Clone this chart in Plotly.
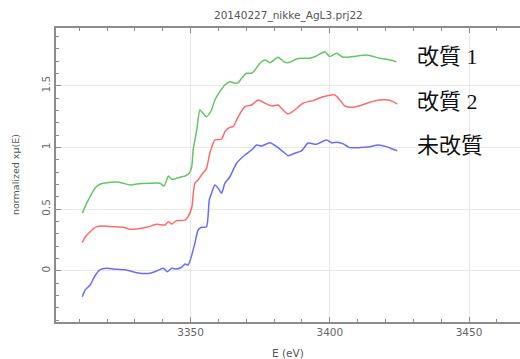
import plotly.graph_objects as go

# Normalized Ag L3-edge XANES spectra (energy in eV, normalized x-mu(E))
energy_kaishitsu1 = [3311.1, 3312.1, 3313.9, 3315.6, 3317.4, 3319.8, 3323.4, 3325.8, 3328.2, 3330.6,
                     3335.4, 3339.0, 3340.5, 3342.0, 3343.2, 3345.0, 3346.8, 3348.0, 3349.5, 3350.4,
                     3350.9, 3352.2, 3353.3, 3353.9, 3355.7, 3357.5, 3358.7, 3360.5, 3362.3, 3364.1,
                     3365.9, 3367.1, 3368.3, 3370.1, 3371.9, 3373.1, 3374.9, 3376.7, 3378.5, 3381.4,
                     3383.8, 3385.6, 3388.0, 3390.4, 3392.8, 3395.2, 3398.2, 3400.0, 3402.4, 3404.8,
                     3408.4, 3413.2, 3417.9, 3421.5, 3423.9]
mu_kaishitsu1 = [0.466, 0.519, 0.600, 0.668, 0.701, 0.714, 0.719, 0.709, 0.695, 0.703,
                 0.709, 0.709, 0.687, 0.768, 0.741, 0.749, 0.762, 0.768, 0.790, 0.843,
                 0.979, 1.141, 1.303, 1.290, 1.249, 1.303, 1.384, 1.452, 1.506, 1.533,
                 1.520, 1.525, 1.560, 1.601, 1.601, 1.628, 1.682, 1.709, 1.687, 1.731,
                 1.690, 1.690, 1.717, 1.723, 1.723, 1.741, 1.776, 1.736, 1.763, 1.731,
                 1.736, 1.749, 1.723, 1.709, 1.695]

energy_kaishitsu2 = [3311.1, 3312.1, 3313.9, 3316.3, 3318.6, 3322.2, 3325.8, 3328.2, 3330.6, 3334.2,
                     3337.8, 3340.8, 3342.0, 3343.2, 3345.0, 3348.0, 3349.1, 3350.4, 3351.5, 3352.7,
                     3353.9, 3355.7, 3356.9, 3358.7, 3361.1, 3362.3, 3364.1, 3365.3, 3367.1, 3369.5,
                     3371.9, 3374.3, 3376.7, 3379.1, 3381.4, 3383.2, 3385.0, 3387.4, 3389.2, 3390.4,
                     3392.2, 3394.0, 3397.0, 3398.8, 3401.8, 3403.6, 3405.4, 3407.2, 3410.8, 3414.4,
                     3417.9, 3420.9, 3422.7, 3424.2]
mu_kaishitsu2 = [0.227, 0.271, 0.316, 0.357, 0.363, 0.357, 0.352, 0.336, 0.338, 0.352,
                 0.376, 0.371, 0.397, 0.379, 0.406, 0.410, 0.438, 0.510, 0.709, 0.736,
                 0.776, 0.830, 0.952, 1.060, 1.066, 1.127, 1.163, 1.168, 1.249, 1.330,
                 1.344, 1.384, 1.358, 1.336, 1.344, 1.303, 1.271, 1.303, 1.338, 1.358,
                 1.371, 1.379, 1.406, 1.417, 1.425, 1.384, 1.336, 1.325, 1.338, 1.366,
                 1.384, 1.384, 1.371, 1.350]

energy_mikaishitsu = [3311.1, 3312.1, 3313.9, 3315.6, 3317.4, 3319.8, 3323.4, 3327.0, 3330.6, 3335.4,
                      3337.8, 3340.2, 3341.6, 3343.2, 3345.0, 3346.8, 3348.0, 3349.1, 3350.4, 3351.5,
                      3352.7, 3353.9, 3355.7, 3356.7, 3357.5, 3358.7, 3359.9, 3361.1, 3362.3, 3364.1,
                      3366.5, 3369.5, 3371.9, 3373.7, 3375.5, 3378.5, 3380.9, 3383.2, 3385.0, 3387.4,
                      3389.8, 3392.2, 3395.2, 3398.8, 3400.6, 3402.4, 3404.8, 3407.2, 3410.8, 3414.4,
                      3417.3, 3420.3, 3422.7, 3424.2]
mu_mikaishitsu = [-0.211, -0.157, -0.116, -0.043, 0.006, 0.019, 0.011, 0.006, -0.016, -0.021,
                  -0.002, 0.019, -0.008, 0.019, 0.014, 0.028, 0.054, 0.046, 0.125, 0.222,
                  0.330, 0.352, 0.357, 0.573, 0.628, 0.695, 0.668, 0.628, 0.709, 0.762,
                  0.871, 0.938, 0.979, 1.019, 1.011, 1.038, 1.006, 0.965, 0.933, 0.952,
                  0.971, 1.035, 1.025, 1.060, 1.038, 1.041, 1.028, 0.998, 0.998, 1.006,
                  1.019, 1.006, 0.985, 0.973]

series_names = ["改質 1", "改質 2", "未改質"]
series_colors = ["#66c566", "#ff6b6b", "#6b6bff"]

x_range = [3301.65, 3468.3]
y_range = [-0.416, 1.968]

fig = go.Figure()
for xs, ys, name, color in zip(
        [energy_kaishitsu1, energy_kaishitsu2, energy_mikaishitsu],
        [mu_kaishitsu1, mu_kaishitsu2, mu_mikaishitsu],
        series_names, series_colors):
    fig.add_trace(go.Scatter(
        x=xs, y=ys, mode="lines", name=name,
        line=dict(color=color, width=1.5, shape="spline", smoothing=0.6),
        showlegend=False, hoverinfo="skip",
    ))

# Series labels placed beside the line ends
label_y = [1.736, 1.371, 1.019]
for name, yv in zip(series_names, label_y):
    fig.add_annotation(
        x=3430.5, y=yv, xref="x", yref="y", text=name, showarrow=False,
        xanchor="left", yanchor="middle",
        font=dict(family="Liberation Serif, Noto Sans CJK JP", size=22, color="#111111"),
    )

tick_font = dict(family="DejaVu Sans", size=10.5, color="#666666")
axis_common = dict(
    showline=True, linecolor="#8c8c8c", linewidth=1.5,
    ticks="inside", ticklen=5, tickcolor="#8c8c8c", tickwidth=1,
    showgrid=True, gridcolor="#e8e8e8", gridwidth=1,
    zeroline=False, tickfont=tick_font,
)

fig.update_xaxes(
    range=x_range, dtick=50, tick0=3350, mirror="ticks",
    minor=dict(dtick=10, tick0=3350, ticks="inside", ticklen=3, tickcolor="#8c8c8c", showgrid=False),
    **axis_common,
)
fig.update_yaxes(
    range=y_range, dtick=0.5, tick0=0, tickangle=-90,
    tickvals=[0, 0.5, 1, 1.5], ticktext=["0", "0.5", "1", "1.5"],
    minor=dict(dtick=0.1, tick0=0, ticks="inside", ticklen=3, tickcolor="#8c8c8c", showgrid=False),
    **axis_common,
)

fig.add_annotation(
    x=0.5, y=1, xref="paper", yref="paper", yshift=13, xanchor="center", yanchor="middle",
    text="20140227_nikke_AgL3.prj22", showarrow=False,
    font=dict(family="DejaVu Sans", size=10.5, color="#555555"),
)
fig.add_annotation(
    x=0.5, y=0, xref="paper", yref="paper", yshift=-31, xanchor="center", yanchor="middle",
    text="E (eV)", showarrow=False,
    font=dict(family="DejaVu Sans", size=10.5, color="#555555"),
)
fig.add_annotation(
    x=0, y=0.5, xref="paper", yref="paper", xshift=-41, xanchor="center", yanchor="middle",
    text="normalized xμ(E)", textangle=-90, showarrow=False,
    font=dict(family="DejaVu Sans", size=9.5, color="#555555"),
)

fig.update_layout(
    width=520, height=359,
    margin=dict(l=56, r=0, t=28, b=37),
    plot_bgcolor="white", paper_bgcolor="white",
)

fig.write_html("out.html")
